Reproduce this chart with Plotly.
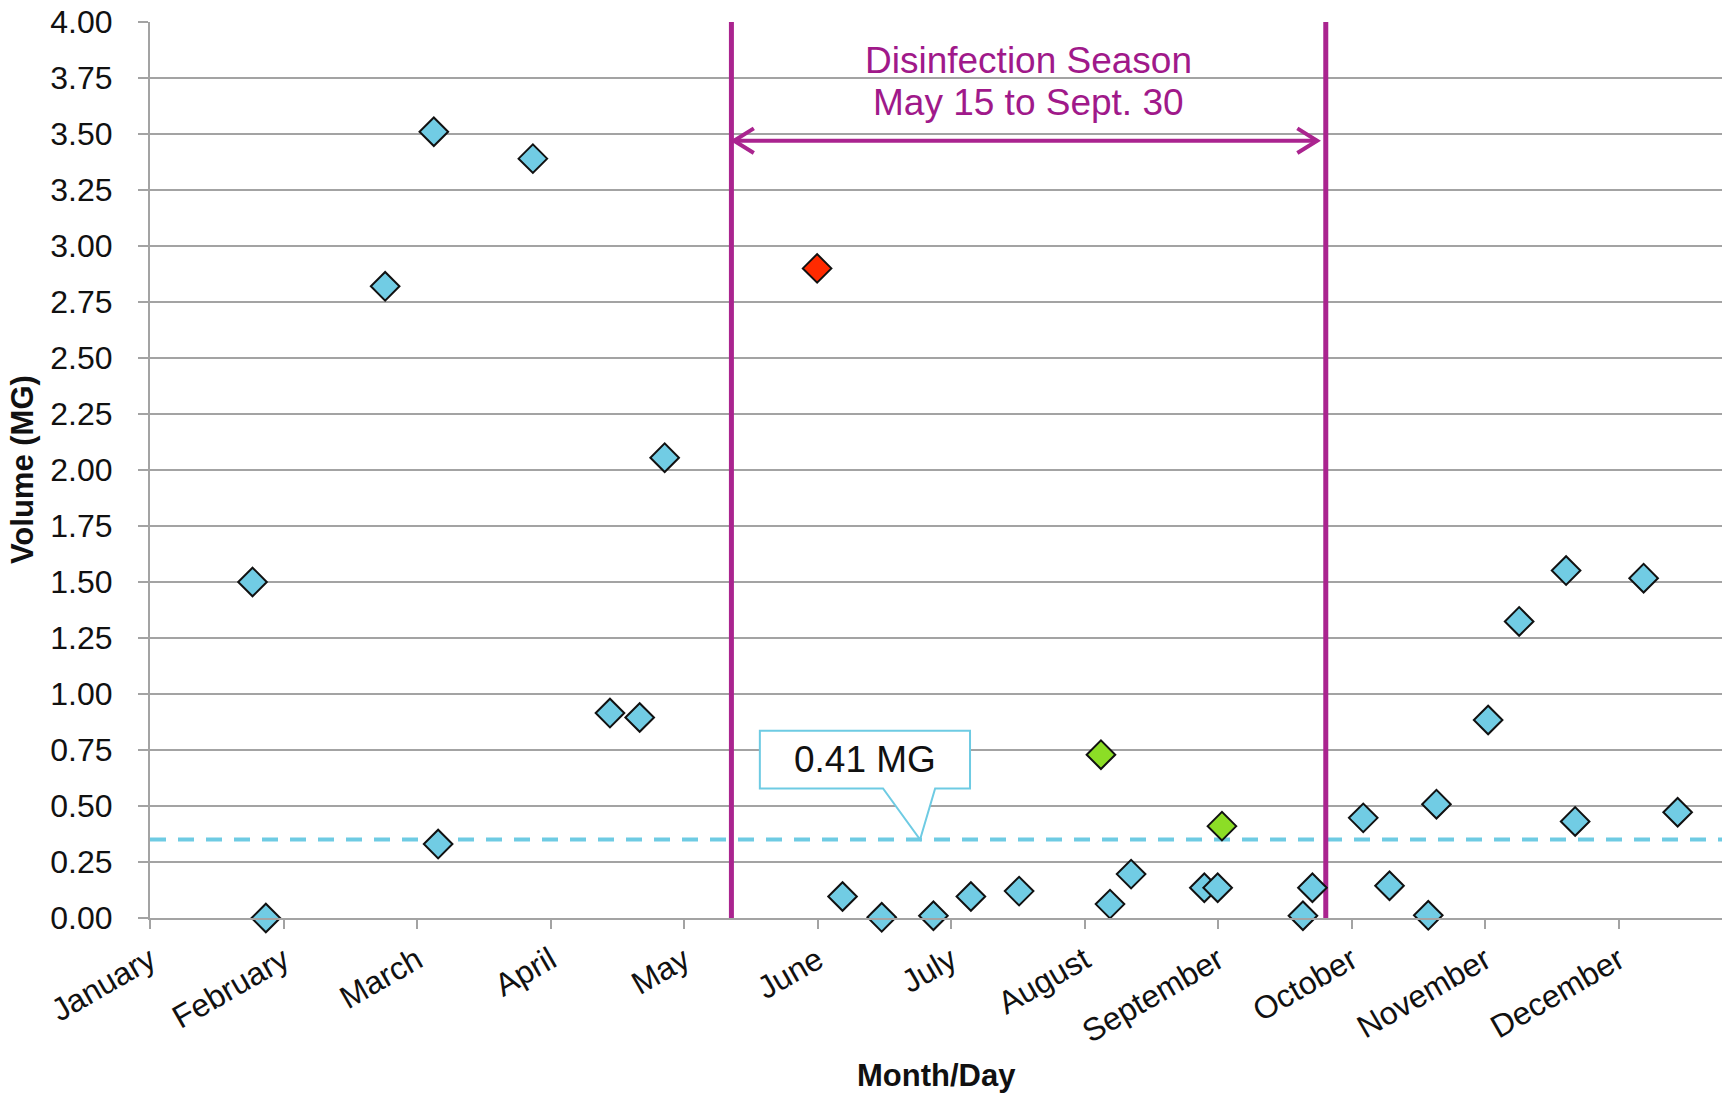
import plotly.graph_objects as go

# ---------------- data ----------------
month_labels = ["January", "February", "March", "April", "May", "June",
                "July", "August", "September", "October", "November", "December"]
month_tick_days = [0, 31, 62, 93, 124, 155, 186, 217, 248, 279, 310, 341]

# regular samples (day of year, volume in MG)
days_blue = [23.8, 26.9, 54.6, 65.9, 66.9, 88.9, 106.8, 113.7, 119.5,
             160.8, 169.9, 181.9, 190.6, 201.8, 222.9, 227.8, 244.8, 247.9,
             267.7, 269.9, 281.7, 287.8, 296.8, 298.7, 310.7, 317.9, 328.8,
             330.9, 346.8, 354.7]
vol_blue = [1.50, 0.00, 2.82, 3.51, 0.33, 3.39, 0.915, 0.895, 2.055,
            0.096, 0.003, 0.01, 0.096, 0.12, 0.062, 0.196, 0.135, 0.135,
            0.01, 0.135, 0.447, 0.144, 0.012, 0.508, 0.884, 1.324, 1.551,
            0.431, 1.517, 0.472]

days_red = [154.9]
vol_red = [2.90]

days_green = [220.8, 248.9]
vol_green = [0.729, 0.41]

threshold_mg = 0.35
threshold_label = "0.41 MG"
season_start = 135   # May 15
season_end = 273     # Sept. 30
season_title = "Disinfection Season"
season_range = "May 15 to Sept. 30"

# ---------------- style ----------------
FONT = "Liberation Sans, Arial, sans-serif"
PURPLE = "#AA248F"
PURPLE_TEXT = "#A0198A"
BLUE = "#71CCE4"
DASH_BLUE = "#6ECBE3"
GRID = "#A3A3A3"

fig = go.Figure()

def add_series(xs, ys, color):
    fig.add_trace(go.Scatter(
        x=xs, y=ys, mode="markers", cliponaxis=False, showlegend=False,
        marker=dict(symbol="diamond", size=22, color=color,
                    line=dict(color="#111111", width=2))))

add_series(days_blue, vol_blue, BLUE)
add_series(days_red, vol_red, "#FF2A00")
add_series(days_green, vol_green, "#8CDD26")

shapes = []
# dashed threshold line
shapes.append(dict(type="line", xref="paper", yref="y", x0=0, x1=1,
                   y0=threshold_mg, y1=threshold_mg, layer="between",
                   line=dict(color=DASH_BLUE, width=4, dash="16px,12px")))
# season boundary lines
for d in (season_start, season_end):
    shapes.append(dict(type="line", xref="x", yref="y", x0=d, x1=d, y0=0, y1=4,
                       layer="between", line=dict(color=PURPLE, width=5)))

# double arrow
arrow_y = 3.47
arm_dx = 4.6
arm_dy = 0.055
a0 = season_start + 0.6
a1 = season_end - 2.0
shapes.append(dict(type="line", xref="x", yref="y", x0=a0, x1=a1, y0=arrow_y, y1=arrow_y,
                   layer="above", line=dict(color=PURPLE, width=4)))
shapes.append(dict(type="path", xref="x", yref="y", layer="above",
                   path=f"M {a0+arm_dx},{arrow_y+arm_dy} L {a0},{arrow_y} L {a0+arm_dx},{arrow_y-arm_dy}",
                   line=dict(color=PURPLE, width=4)))
shapes.append(dict(type="path", xref="x", yref="y", layer="above",
                   path=f"M {a1-arm_dx},{arrow_y+arm_dy} L {a1},{arrow_y} L {a1-arm_dx},{arrow_y-arm_dy}",
                   line=dict(color=PURPLE, width=4)))

# callout box with pointer to the threshold line
bx0, bx1 = 141.6, 190.4
by0, by1 = 0.578, 0.836
px0, px1, ptip = 170.2, 182.3, 178.8
callout_path = (f"M {bx0},{by0} L {bx0},{by1} L {bx1},{by1} L {bx1},{by0} "
                f"L {px1},{by0} L {ptip},{threshold_mg} L {px0},{by0} Z")
shapes.append(dict(type="path", xref="x", yref="y", layer="between", path=callout_path,
                   fillcolor="white", line=dict(color=DASH_BLUE, width=2)))

season_mid = (season_start + season_end) / 2
annotations = [
    dict(x=(bx0 + bx1) / 2, y=(by0 + by1) / 2, xref="x", yref="y", text=threshold_label,
         showarrow=False, font=dict(family=FONT, size=37, color="#111111")),
    dict(x=season_mid, y=3.83, xref="x", yref="y", text=season_title,
         showarrow=False, font=dict(family=FONT, size=37, color=PURPLE_TEXT)),
    dict(x=season_mid, y=3.64, xref="x", yref="y", text=season_range,
         showarrow=False, font=dict(family=FONT, size=37, color=PURPLE_TEXT)),
    dict(x=0.5, y=-0.1756, xref="paper", yref="paper", text="<b>Month/Day</b>",
         showarrow=False, yanchor="middle", font=dict(family=FONT, size=31, color="#111111")),
    dict(x=-0.0814, y=0.5, xref="paper", yref="paper", text="<b>Volume (MG)</b>",
         showarrow=False, textangle=-90, xanchor="center", yanchor="middle",
         font=dict(family=FONT, size=31, color="#111111")),
]

fig.update_layout(
    width=1726, height=1095,
    margin=dict(l=150, r=4, t=18, b=177),
    paper_bgcolor="white", plot_bgcolor="white",
    shapes=shapes, annotations=annotations,
    font=dict(family=FONT, color="#111111"),
)

fig.update_xaxes(
    range=[0, 365], tickmode="array", tickvals=month_tick_days, ticktext=month_labels,
    tickangle=-30, tickfont=dict(family=FONT, size=32, color="#111111"),
    ticks="outside", ticklen=9, tickwidth=2, tickcolor=GRID,
    showgrid=False, showline=True, linecolor=GRID, linewidth=2, zeroline=False,
)
fig.update_yaxes(
    range=[0, 4], tickmode="linear", tick0=0, dtick=0.25, tickformat=".2f",
    tickfont=dict(family=FONT, size=32, color="#111111"),
    ticks="outside", ticklen=10, tickwidth=2, tickcolor=GRID, ticklabelstandoff=19,
    ticklabeloverflow="allow",
    showgrid=True, gridcolor=GRID, gridwidth=2,
    showline=True, linecolor=GRID, linewidth=2, zeroline=False,
)

# remove the default 8px page margin so the figure fills the window exactly
fig.write_html("out.html", config={"displayModeBar": False},
               post_script="document.body.style.margin='0';")
